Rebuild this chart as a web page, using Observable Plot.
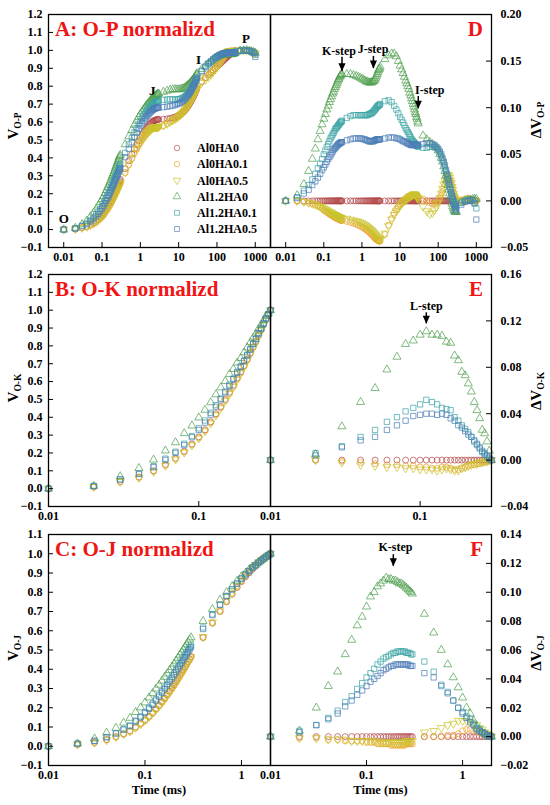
<!DOCTYPE html>
<html><head><meta charset="utf-8">
<script src="https://cdn.jsdelivr.net/npm/d3@7"></script>
<script src="https://cdn.jsdelivr.net/npm/@observablehq/plot@0.6"></script>
<style>
body{margin:0;background:#fff;}
#wrap{position:relative;width:550px;height:805px;overflow:hidden;background:#fff;}
#wrap svg{position:absolute;overflow:visible;}
</style></head><body><div id="wrap"></div>
<script>
// ---------------- data ----------------
const series = ["Al0HA0","Al0HA0.1","Al0HA0.5","Al1.2HA0","Al1.2HA0.1","Al1.2HA0.5"];
const colors = ["#b24a4a","#ef9f2c","#c8c42c","#4f9f4f","#3ea4a4","#4d7db6"];

const tOP = [0.01,0.02,0.03,0.04,0.05,0.06,0.07,0.08,0.09,0.1,0.11,0.12,0.13,0.14,0.15,0.16,0.17,0.18,0.19,0.2,0.21,0.22,0.23,0.24,0.25,0.26,0.27,0.28,0.29,0.3,
0.4,0.5,0.6,0.7,0.8,0.9,1,1.1,1.2,1.3,1.4,1.5,1.6,1.7,1.8,1.9,2,2.1,2.2,2.3,2.4,2.5,2.6,2.7,2.8,2.9,3,
4,5,6,7,8,9,10,11,12,13,14,15,16,17,18,19,20,21,22,23,24,25,26,27,28,29,30,
40,50,60,70,80,90,100,110,120,130,140,150,160,170,180,190,200,210,220,230,240,250,260,270,280,290,300,
400,500,600,700,800,900,1000];

// V O-P
const vOP_Al0HA0 = [0,0.003,0.011,0.018,0.028,0.038,0.048,0.059,0.07,0.081,0.092,0.105,0.118,0.129,0.14,0.151,0.162,0.174,0.183,0.193,0.203,0.213,0.223,0.231,0.241,0.249,0.258,0.266,0.273,0.28,
0.339,0.384,0.42,0.45,0.474,0.495,0.513,0.528,0.54,0.552,0.561,0.57,0.577,0.584,0.59,0.595,0.6,0.603,0.606,0.608,0.61,0.611,0.612,0.613,0.614,0.615,0.615,
0.616,0.618,0.621,0.624,0.628,0.632,0.637,0.642,0.648,0.654,0.661,0.668,0.676,0.684,0.692,0.7,0.708,0.716,0.724,0.732,0.74,0.748,0.756,0.764,0.772,0.78,0.788,
0.825,0.848,0.865,0.878,0.89,0.9,0.909,0.917,0.925,0.932,0.939,0.945,0.951,0.956,0.961,0.966,0.97,0.974,0.978,0.981,0.984,0.987,0.99,0.992,0.994,0.996,0.998,
1,1,0.999,0.996,0.992,0.988,0.984];
const vOP_Al0HA01 = [0,0.003,0.01,0.016,0.025,0.034,0.043,0.053,0.062,0.071,0.081,0.093,0.105,0.115,0.125,0.136,0.146,0.157,0.166,0.175,0.185,0.194,0.204,0.212,0.221,0.229,0.238,0.245,0.252,0.259,
0.317,0.361,0.396,0.425,0.448,0.468,0.485,0.499,0.51,0.521,0.529,0.537,0.543,0.549,0.554,0.558,0.562,0.564,0.566,0.567,0.569,0.569,0.57,0.57,0.571,0.572,0.572,
0.58,0.592,0.602,0.611,0.619,0.626,0.633,0.64,0.648,0.655,0.663,0.671,0.68,0.688,0.697,0.705,0.714,0.722,0.73,0.738,0.746,0.754,0.762,0.769,0.777,0.784,0.792,
0.827,0.848,0.863,0.875,0.887,0.898,0.909,0.92,0.931,0.942,0.953,0.963,0.972,0.979,0.985,0.99,0.993,0.995,0.996,0.996,0.996,0.996,0.996,0.996,0.996,0.997,0.998,
1.001,1.002,1.002,0.998,0.993,0.989,0.984];
const vOP_Al0HA05 = [0,0.003,0.01,0.016,0.025,0.034,0.043,0.053,0.063,0.073,0.083,0.095,0.107,0.117,0.128,0.138,0.148,0.16,0.168,0.178,0.187,0.197,0.206,0.214,0.224,0.231,0.24,0.248,0.254,0.261,
0.32,0.364,0.399,0.428,0.452,0.472,0.489,0.503,0.514,0.525,0.533,0.541,0.547,0.553,0.558,0.562,0.566,0.568,0.57,0.571,0.572,0.572,0.572,0.572,0.573,0.573,0.573,
0.581,0.591,0.601,0.609,0.617,0.624,0.632,0.639,0.647,0.654,0.662,0.67,0.679,0.688,0.697,0.705,0.714,0.722,0.731,0.739,0.747,0.755,0.762,0.769,0.776,0.783,0.79,
0.819,0.837,0.851,0.865,0.88,0.894,0.907,0.92,0.933,0.945,0.957,0.967,0.976,0.983,0.989,0.993,0.995,0.996,0.997,0.996,0.996,0.995,0.995,0.995,0.995,0.996,0.997,
1,1.001,1.001,0.998,0.993,0.989,0.984];
const vOP_Al12HA0 = [0,0.009,0.029,0.05,0.073,0.094,0.114,0.134,0.152,0.169,0.185,0.203,0.22,0.235,0.249,0.263,0.277,0.291,0.303,0.315,0.327,0.339,0.351,0.361,0.372,0.382,0.392,0.401,0.409,0.416,
0.475,0.52,0.555,0.584,0.607,0.627,0.644,0.658,0.669,0.68,0.689,0.697,0.704,0.711,0.717,0.723,0.728,0.732,0.736,0.74,0.744,0.747,0.75,0.753,0.755,0.757,0.759,
0.768,0.774,0.779,0.782,0.783,0.782,0.782,0.783,0.785,0.787,0.79,0.794,0.799,0.804,0.808,0.813,0.818,0.823,0.828,0.833,0.838,0.843,0.849,0.854,0.86,0.865,0.871,
0.895,0.914,0.928,0.939,0.949,0.957,0.963,0.967,0.971,0.974,0.976,0.977,0.978,0.978,0.978,0.978,0.978,0.978,0.978,0.978,0.978,0.979,0.98,0.981,0.982,0.984,0.986,
0.998,1,1,0.997,0.994,0.99,0.986];
const vOP_Al12HA01 = [0,0.007,0.022,0.035,0.051,0.067,0.083,0.099,0.115,0.131,0.146,0.163,0.179,0.193,0.207,0.22,0.233,0.247,0.258,0.27,0.281,0.292,0.303,0.312,0.323,0.332,0.342,0.351,0.358,0.366,
0.428,0.475,0.512,0.542,0.566,0.587,0.605,0.62,0.632,0.644,0.653,0.663,0.67,0.678,0.684,0.69,0.696,0.7,0.704,0.707,0.71,0.712,0.714,0.715,0.717,0.718,0.719,
0.723,0.726,0.727,0.726,0.726,0.726,0.727,0.729,0.732,0.735,0.739,0.744,0.75,0.756,0.762,0.768,0.774,0.781,0.788,0.795,0.802,0.809,0.816,0.824,0.831,0.839,0.846,
0.882,0.905,0.923,0.936,0.948,0.957,0.964,0.969,0.973,0.976,0.979,0.98,0.982,0.983,0.984,0.985,0.985,0.986,0.987,0.987,0.987,0.988,0.989,0.989,0.99,0.991,0.992,
0.998,1,1,0.997,0.992,0.985,0.976];
const vOP_Al12HA05 = [0,0.006,0.019,0.03,0.045,0.059,0.073,0.088,0.103,0.117,0.131,0.147,0.163,0.176,0.189,0.202,0.215,0.229,0.239,0.25,0.261,0.272,0.283,0.292,0.302,0.311,0.32,0.329,0.336,0.343,
0.404,0.45,0.487,0.517,0.541,0.562,0.58,0.594,0.606,0.617,0.626,0.634,0.641,0.648,0.654,0.659,0.664,0.668,0.671,0.673,0.676,0.677,0.678,0.679,0.68,0.681,0.681,
0.683,0.686,0.689,0.692,0.695,0.699,0.703,0.707,0.712,0.718,0.724,0.73,0.738,0.745,0.753,0.76,0.768,0.776,0.784,0.792,0.8,0.808,0.816,0.824,0.832,0.84,0.848,
0.886,0.91,0.927,0.939,0.95,0.958,0.965,0.97,0.975,0.978,0.981,0.983,0.984,0.985,0.986,0.987,0.987,0.987,0.987,0.986,0.986,0.986,0.986,0.986,0.986,0.987,0.988,
0.996,0.999,0.999,0.997,0.993,0.986,0.964];

// delta V O-P
const dOP_Al0HA0 = [0,0,0,0,0,0,0,0,0,0,0,0,0,0,0,0,0,0,0,0,0,0,0,0,0,0,0,0,0,0,
0,0,0,0,0,0,0,0,0,0,0,0,0,0,0,0,0,0,0,0,0,0,0,0,0,0,0,
0,0,0,0,0,0,0,0,0,0,0,0,0,0,0,0,0,0,0,0,0,0,0,0,0,0,0,
0,0,0,0,0,0,0,0,0,0,0,0,0,0,0,0,0,0,0,0,0,0,0,0,0,0,0,
0,0,0,0,0,0,0];
const dOP_Al0HA01 = [0,0,-0.001,-0.002,-0.003,-0.004,-0.005,-0.006,-0.008,-0.01,-0.011,-0.012,-0.013,-0.014,-0.015,-0.015,-0.016,-0.017,-0.017,-0.018,-0.018,-0.019,-0.019,-0.019,-0.02,-0.02,-0.02,-0.021,-0.021,-0.021,
-0.022,-0.023,-0.024,-0.025,-0.026,-0.027,-0.028,-0.029,-0.03,-0.031,-0.032,-0.033,-0.034,-0.035,-0.036,-0.037,-0.038,-0.039,-0.04,-0.041,-0.041,-0.042,-0.042,-0.043,-0.043,-0.043,-0.043,
-0.036,-0.026,-0.019,-0.013,-0.009,-0.006,-0.004,-0.002,0,0.001,0.002,0.003,0.004,0.004,0.005,0.005,0.006,0.006,0.006,0.006,0.006,0.006,0.006,0.005,0.005,0.004,0.004,
0.002,0,-0.002,-0.003,-0.003,-0.002,0,0.003,0.006,0.01,0.014,0.018,0.021,0.023,0.024,0.024,0.023,0.021,0.018,0.015,0.012,0.009,0.006,0.004,0.002,0.001,0,
0.001,0.002,0.003,0.002,0.001,0.001,0];
const dOP_Al0HA05 = [0,0,-0.001,-0.002,-0.003,-0.004,-0.005,-0.006,-0.007,-0.008,-0.009,-0.01,-0.011,-0.012,-0.012,-0.013,-0.014,-0.014,-0.015,-0.015,-0.016,-0.016,-0.017,-0.017,-0.017,-0.018,-0.018,-0.018,-0.019,-0.019,
-0.019,-0.02,-0.021,-0.022,-0.022,-0.023,-0.024,-0.025,-0.026,-0.027,-0.028,-0.029,-0.03,-0.031,-0.032,-0.033,-0.034,-0.035,-0.036,-0.037,-0.038,-0.039,-0.04,-0.041,-0.041,-0.042,-0.042,
-0.035,-0.027,-0.02,-0.015,-0.011,-0.008,-0.005,-0.003,-0.001,0,0.001,0.002,0.003,0.004,0.005,0.005,0.006,0.006,0.007,0.007,0.007,0.007,0.006,0.005,0.004,0.003,0.002,
-0.006,-0.011,-0.014,-0.013,-0.01,-0.006,-0.002,0.003,0.008,0.013,0.018,0.022,0.025,0.027,0.028,0.027,0.025,0.022,0.019,0.015,0.012,0.008,0.005,0.003,0.001,0,-0.001,
0,0.001,0.002,0.002,0.001,0.001,0];
const dOP_Al12HA0 = [0,0.006,0.018,0.032,0.045,0.056,0.066,0.075,0.082,0.088,0.093,0.098,0.102,0.106,0.109,0.112,0.115,0.117,0.12,0.122,0.124,0.126,0.128,0.13,0.131,0.133,0.134,0.135,0.136,0.136,
0.136,0.136,0.135,0.134,0.133,0.132,0.131,0.13,0.129,0.128,0.128,0.127,0.127,0.127,0.127,0.128,0.128,0.129,0.13,0.132,0.134,0.136,0.138,0.14,0.141,0.142,0.144,
0.152,0.156,0.158,0.158,0.155,0.15,0.145,0.141,0.137,0.133,0.129,0.126,0.123,0.12,0.116,0.113,0.11,0.107,0.104,0.101,0.098,0.095,0.093,0.09,0.088,0.085,0.083,
0.07,0.066,0.063,0.061,0.059,0.057,0.054,0.05,0.046,0.042,0.037,0.032,0.027,0.022,0.017,0.012,0.008,0.004,0,-0.003,-0.006,-0.008,-0.01,-0.011,-0.012,-0.012,-0.012,
-0.002,0,0.001,0.001,0.002,0.002,0.002];
const dOP_Al12HA01 = [0,0.004,0.011,0.017,0.023,0.029,0.035,0.04,0.045,0.05,0.054,0.058,0.061,0.064,0.067,0.069,0.071,0.073,0.075,0.077,0.078,0.079,0.08,0.081,0.082,0.083,0.084,0.085,0.085,0.086,
0.089,0.091,0.092,0.092,0.092,0.092,0.092,0.092,0.092,0.092,0.092,0.093,0.093,0.094,0.094,0.095,0.096,0.097,0.098,0.099,0.1,0.101,0.102,0.102,0.103,0.103,0.104,
0.107,0.108,0.106,0.102,0.098,0.094,0.09,0.087,0.084,0.081,0.078,0.076,0.074,0.072,0.07,0.068,0.066,0.065,0.064,0.063,0.062,0.061,0.06,0.06,0.059,0.059,0.058,
0.057,0.057,0.058,0.058,0.058,0.057,0.055,0.052,0.048,0.044,0.04,0.035,0.031,0.027,0.023,0.019,0.015,0.012,0.009,0.006,0.003,0.001,-0.001,-0.003,-0.004,-0.005,-0.006,
-0.002,0,0.001,0.001,0,-0.003,-0.008];
const dOP_Al12HA05 = [0,0.003,0.008,0.012,0.017,0.021,0.025,0.029,0.033,0.036,0.039,0.042,0.045,0.047,0.049,0.051,0.053,0.055,0.056,0.057,0.058,0.059,0.06,0.061,0.061,0.062,0.062,0.063,0.063,0.063,
0.065,0.066,0.067,0.067,0.067,0.067,0.067,0.066,0.066,0.065,0.065,0.064,0.064,0.064,0.064,0.064,0.064,0.065,0.065,0.065,0.066,0.066,0.066,0.066,0.066,0.066,0.066,
0.067,0.068,0.068,0.068,0.067,0.067,0.066,0.065,0.064,0.064,0.063,0.062,0.062,0.061,0.061,0.06,0.06,0.06,0.06,0.06,0.06,0.06,0.06,0.06,0.06,0.06,0.06,
0.061,0.062,0.062,0.061,0.06,0.058,0.056,0.053,0.05,0.046,0.042,0.038,0.033,0.029,0.025,0.021,0.017,0.013,0.009,0.005,0.002,-0.001,-0.004,-0.006,-0.008,-0.009,-0.01,
-0.004,-0.001,0,0.001,0.001,-0.002,-0.02];

// O-K normalized
const tOK = [0.01,0.02,0.03,0.04,0.05,0.06,0.07,0.08,0.09,0.1,0.11,0.12,0.13,0.14,0.15,0.16,0.17,0.18,0.19,0.2,0.21,0.22,0.23,0.24,0.25,0.26,0.27,0.28,0.29,0.3];
const vOK_Al0HA0 = [0,0.01,0.04,0.065,0.1,0.135,0.17,0.21,0.25,0.29,0.33,0.375,0.42,0.46,0.5,0.54,0.58,0.62,0.655,0.69,0.725,0.76,0.795,0.825,0.86,0.89,0.92,0.95,0.975,1];
const vOK_Al0HA01 = [0,0.01,0.039,0.063,0.097,0.131,0.166,0.205,0.245,0.284,0.324,0.368,0.413,0.454,0.494,0.533,0.572,0.612,0.648,0.684,0.72,0.756,0.791,0.822,0.857,0.888,0.918,0.949,0.974,1];
const vOK_Al0HA05 = [0,0.01,0.038,0.061,0.095,0.129,0.164,0.203,0.243,0.282,0.322,0.367,0.411,0.452,0.493,0.532,0.571,0.611,0.648,0.684,0.72,0.756,0.792,0.822,0.858,0.888,0.919,0.949,0.975,1];
const vOK_Al12HA0 = [0,0.015,0.069,0.115,0.162,0.213,0.259,0.31,0.353,0.398,0.441,0.483,0.528,0.567,0.602,0.641,0.67,0.706,0.731,0.763,0.791,0.819,0.845,0.868,0.896,0.916,0.943,0.966,0.983,1];
const vOK_Al12HA01 = [0,0.016,0.052,0.085,0.126,0.168,0.207,0.252,0.295,0.338,0.382,0.425,0.468,0.505,0.544,0.583,0.617,0.654,0.685,0.717,0.749,0.78,0.811,0.838,0.87,0.897,0.925,0.953,0.976,1];
const vOK_Al12HA05 = [0,0.014,0.051,0.082,0.12,0.161,0.2,0.244,0.288,0.329,0.37,0.415,0.459,0.5,0.539,0.576,0.614,0.65,0.683,0.715,0.747,0.78,0.812,0.839,0.871,0.898,0.926,0.954,0.977,1];
const dOK_Al0HA0 = [0,0,0,0,0,0,0,0,0,0,0,0,0,0,0,0,0,0,0,0,0,0,0,0,0,0,0,0,0,0];
const dOK_Al0HA01 = [0,0,-0.001,-0.002,-0.003,-0.004,-0.004,-0.005,-0.005,-0.006,-0.006,-0.007,-0.007,-0.006,-0.006,-0.007,-0.008,-0.008,-0.007,-0.006,-0.005,-0.004,-0.004,-0.003,-0.003,-0.002,-0.002,-0.001,-0.001,0];
const dOK_Al0HA05 = [0,0,-0.002,-0.004,-0.005,-0.006,-0.006,-0.007,-0.007,-0.008,-0.008,-0.008,-0.009,-0.008,-0.007,-0.008,-0.009,-0.009,-0.007,-0.006,-0.005,-0.004,-0.003,-0.003,-0.002,-0.002,-0.001,-0.001,0,0];
const dOK_Al12HA0 = [0,0.005,0.029,0.05,0.062,0.078,0.089,0.1,0.103,0.108,0.111,0.108,0.108,0.107,0.102,0.101,0.09,0.086,0.076,0.073,0.066,0.059,0.05,0.043,0.036,0.026,0.023,0.016,0.008,0];
const dOK_Al12HA01 = [0,0.006,0.012,0.02,0.026,0.033,0.037,0.042,0.045,0.048,0.052,0.05,0.048,0.045,0.044,0.043,0.037,0.034,0.03,0.027,0.024,0.02,0.016,0.013,0.01,0.007,0.005,0.003,0.001,0];
const dOK_Al12HA05 = [0,0.004,0.011,0.017,0.02,0.026,0.03,0.034,0.038,0.039,0.04,0.04,0.039,0.04,0.039,0.036,0.034,0.03,0.028,0.025,0.022,0.02,0.017,0.014,0.011,0.008,0.006,0.004,0.002,0];

// O-J normalized
const tOJ = [0.01,0.02,0.03,0.04,0.05,0.06,0.07,0.08,0.09,0.1,0.11,0.12,0.13,0.14,0.15,0.16,0.17,0.18,0.19,0.2,0.21,0.22,0.23,0.24,0.25,0.26,0.27,0.28,0.29,0.3,
0.4,0.5,0.6,0.7,0.8,0.9,1,1.1,1.2,1.3,1.4,1.5,1.6,1.7,1.8,1.9,2];
const vOJ_Al0HA0 = [0,0.01,0.02,0.035,0.05,0.065,0.08,0.1,0.118,0.137,0.156,0.175,0.195,0.213,0.232,0.25,0.268,0.286,0.303,0.32,0.337,0.353,0.369,0.384,0.399,0.413,0.427,0.441,0.454,0.466,
0.565,0.64,0.7,0.75,0.79,0.825,0.855,0.88,0.9,0.92,0.935,0.95,0.962,0.973,0.983,0.992,1];
const vOJ_Al0HA01 = [0,0.009,0.019,0.033,0.048,0.062,0.077,0.097,0.115,0.133,0.152,0.171,0.19,0.208,0.227,0.245,0.263,0.28,0.297,0.314,0.331,0.347,0.363,0.378,0.393,0.408,0.422,0.436,0.449,0.461,
0.565,0.64,0.7,0.751,0.791,0.827,0.859,0.885,0.905,0.924,0.939,0.953,0.964,0.975,0.984,0.993,1];
const vOJ_Al0HA05 = [0,0.009,0.019,0.033,0.048,0.063,0.077,0.097,0.115,0.134,0.153,0.172,0.191,0.209,0.228,0.246,0.264,0.282,0.299,0.316,0.333,0.349,0.365,0.38,0.395,0.41,0.424,0.438,0.451,0.463,
0.568,0.644,0.706,0.758,0.799,0.836,0.866,0.891,0.91,0.929,0.943,0.956,0.967,0.976,0.985,0.993,1];
const vOJ_Al12HA0 = [0,0.014,0.04,0.07,0.095,0.122,0.147,0.177,0.201,0.227,0.253,0.275,0.299,0.319,0.34,0.36,0.377,0.395,0.411,0.428,0.444,0.459,0.475,0.489,0.503,0.516,0.529,0.542,0.554,0.565,
0.65,0.712,0.76,0.8,0.831,0.859,0.882,0.9,0.916,0.931,0.942,0.955,0.965,0.975,0.984,0.992,1];
const vOJ_Al12HA01 = [0,0.014,0.028,0.048,0.068,0.089,0.108,0.133,0.155,0.178,0.2,0.222,0.245,0.265,0.286,0.305,0.324,0.343,0.361,0.378,0.396,0.412,0.428,0.443,0.458,0.471,0.485,0.499,0.511,0.523,
0.617,0.685,0.736,0.781,0.815,0.845,0.872,0.894,0.912,0.929,0.941,0.955,0.965,0.975,0.984,0.992,1];
const vOJ_Al12HA05 = [0,0.013,0.028,0.047,0.066,0.086,0.105,0.129,0.15,0.172,0.194,0.215,0.237,0.257,0.278,0.297,0.316,0.335,0.352,0.37,0.387,0.403,0.419,0.434,0.449,0.463,0.477,0.49,0.503,0.515,
0.609,0.681,0.735,0.78,0.815,0.845,0.871,0.893,0.91,0.928,0.94,0.954,0.965,0.975,0.984,0.992,1];
const dOJ_Al0HA0 = [0,0,0,0,0,0,0,0,0,0,0,0,0,0,0,0,0,0,0,0,0,0,0,0,0,0,0,0,0,0,
0,0,0,0,0,0,0,0,0,0,0,0,0,0,0,0,0];
const dOJ_Al0HA01 = [0,-0.001,-0.001,-0.002,-0.002,-0.003,-0.003,-0.003,-0.003,-0.004,-0.004,-0.004,-0.005,-0.005,-0.005,-0.005,-0.005,-0.006,-0.006,-0.006,-0.006,-0.006,-0.006,-0.006,-0.006,-0.005,-0.005,-0.005,-0.005,-0.005,
0,0,0,0.001,0.001,0.002,0.004,0.005,0.005,0.004,0.004,0.003,0.002,0.002,0.001,0.001,0];
const dOJ_Al0HA05 = [0,-0.001,-0.001,-0.002,-0.002,-0.002,-0.003,-0.003,-0.003,-0.003,-0.003,-0.003,-0.004,-0.004,-0.004,-0.004,-0.004,-0.004,-0.004,-0.004,-0.004,-0.004,-0.004,-0.004,-0.004,-0.003,-0.003,-0.003,-0.003,-0.003,
0.003,0.004,0.006,0.008,0.009,0.011,0.011,0.011,0.01,0.009,0.008,0.006,0.005,0.003,0.002,0.001,0];
const dOJ_Al12HA0 = [0,0.004,0.02,0.035,0.045,0.057,0.067,0.077,0.083,0.09,0.097,0.1,0.104,0.106,0.108,0.11,0.109,0.109,0.108,0.108,0.107,0.106,0.106,0.105,0.104,0.103,0.102,0.101,0.1,0.099,
0.085,0.072,0.06,0.05,0.041,0.034,0.027,0.02,0.016,0.011,0.007,0.005,0.003,0.002,0.001,0,0];
const dOJ_Al12HA01 = [0,0.004,0.008,0.013,0.018,0.024,0.028,0.033,0.037,0.041,0.044,0.047,0.05,0.052,0.054,0.055,0.056,0.057,0.058,0.058,0.059,0.059,0.059,0.059,0.059,0.058,0.058,0.058,0.057,0.057,
0.052,0.045,0.036,0.031,0.025,0.02,0.017,0.014,0.012,0.009,0.006,0.005,0.003,0.002,0.001,0,0];
const dOJ_Al12HA05 = [0,0.003,0.008,0.012,0.016,0.021,0.025,0.029,0.032,0.035,0.038,0.04,0.042,0.044,0.046,0.047,0.048,0.049,0.049,0.05,0.05,0.05,0.05,0.05,0.05,0.05,0.05,0.049,0.049,0.049,
0.044,0.041,0.035,0.03,0.025,0.02,0.016,0.013,0.01,0.008,0.005,0.004,0.003,0.002,0.001,0,0];

// ticks
const xTicksOP = [0.01,0.1,1,10,100,1000];
const xTicksOK = [0.01,0.1];
const xTicksOJ = [0.01,0.1,1];
const yTicksA = [-0.1,0,0.1,0.2,0.3,0.4,0.5,0.6,0.7,0.8,0.9,1.0,1.1,1.2];
const yTicksB = [-0.1,0,0.1,0.2,0.3,0.4,0.5,0.6,0.7,0.8,0.9,1.0,1.1,1.2];
const yTicksC = [-0.1,0,0.1,0.2,0.3,0.4,0.5,0.6,0.7,0.8,0.9,1.0,1.1];
const yTicksD = [-0.05,0,0.05,0.1,0.15,0.2];
const yTicksE = [-0.04,0,0.04,0.08,0.12,0.16];
const yTicksF = [-0.02,0,0.02,0.04,0.06,0.08,0.1,0.12,0.14];

// annotations
const opLetters = ["O","J","I","P"];
const opLettersT = [0.01, 2.06, 33, 571];
const opLettersV = [0.06, 0.776, 0.947, 1.065];
const stepD = ["K-step","J-step","I-step"];
const stepDT = [0.25, 1.95, 60];
const stepDV = [0.161, 0.163, 0.119];
const arrowDT = [0.3, 2, 30];
const arrowDTop = [0.154, 0.155, 0.112];
const arrowDTip = [0.139, 0.142, 0.099];
const stepE = ["L-step"], stepET = [0.11], stepEV = [0.133];
const arrowET = [0.11], arrowETop = [0.127], arrowETip = [0.1175];
const stepF = ["K-step"], stepFT = [0.2], stepFV = [0.131];
const arrowFT = [0.19], arrowFTop = [0.126], arrowFTip = [0.118];

// ---------------- drawing ----------------
const FONT = "'Liberation Serif','Times New Roman',serif";
const triDown = {draw(ctx, size){ const y = -Math.sqrt(size/(Math.sqrt(3)*3)); const s3 = Math.sqrt(3);
  ctx.moveTo(0, -y*2); ctx.lineTo(-s3*y, y); ctx.lineTo(s3*y, y); ctx.closePath(); }};
const arrowHead = {draw(ctx){ ctx.moveTo(0,0); ctx.lineTo(-3.6,-8); ctx.lineTo(3.6,-8); ctx.closePath(); }};
const symbols = ["circle","circle",triDown,"triangle","square","square"];
const d3symbols = [d3.symbolCircle, d3.symbolCircle, triDown, d3.symbolTriangle, d3.symbolSquare, d3.symbolSquare];

function table(t, v){ return t.map((x,i)=>({t:x, v:v[i]})).filter(d=>d.v!=null); }

const wrap = document.getElementById("wrap");

function panel(o){
  const left = o.side === "left";
  const mL = left ? 48 : 5, mR = left ? 5 : 59, mT = 14, mB = 40;
  const fw = o.x1 - o.x0, fh = o.y1 - o.y0;
  const marks = [];
  o.vals.forEach((v,i)=>{
    marks.push(Plot.dot(table(o.t, v), {x:"t", y:"v", symbol: symbols[i], stroke: colors[i], fill:"none",
      r: 3, strokeWidth: 0.8, strokeOpacity: 0.9}));
  });
  marks.push(Plot.frame({stroke:"#000", strokeWidth:1.3}));
  marks.push(Plot.tickX(o.xticks, {x: d=>d, insetTop: fh-5, stroke:"#000", strokeWidth:1}));
  if (left) marks.push(Plot.tickY(o.yticks, {y: d=>d, insetRight: fw-5, stroke:"#000", strokeWidth:1}));
  else marks.push(Plot.tickY(o.yticks, {y: d=>d, insetLeft: fw-5, stroke:"#000", strokeWidth:1}));
  marks.push(Plot.axisX({ticks: o.xticks, tickSize: 0, tickPadding: 5, tickFormat: d=>String(d), label: null}));
  marks.push(Plot.axisY({anchor: left ? "left" : "right", ticks: o.yticks, tickSize: 0, tickPadding: left ? 6 : 9,
    tickFormat: d3.format(o.yfmt), label: null}));
  (o.extra || []).forEach(m=>marks.push(m));
  const svg = Plot.plot({
    width: mL+fw+mR, height: mT+fh+mB, marginLeft: mL, marginRight: mR, marginTop: mT, marginBottom: mB,
    x: {type:"log", domain: o.xdomain, axis: null},
    y: {domain: o.ydomain, axis: null},
    style: {background:"none", overflow:"visible", fontFamily: FONT, fontSize:"12px", fontWeight:"bold", color:"#000"},
    marks
  });
  svg.style.position = "absolute";
  svg.style.left = (o.x0 - mL) + "px";
  svg.style.top = (o.y0 - mT) + "px";
  wrap.appendChild(svg);
  const s = d3.select(svg);
  if (o.title) s.append("text").attr("x", mL+7).attr("y", mT+22).attr("fill","#f01414").attr("text-anchor","start")
     .attr("font-family", FONT).attr("font-weight","bold").attr("font-size", 21).text(o.title);
  if (o.letter) s.append("text").attr("x", mL+fw-8).attr("y", mT+22).attr("fill","#f01414").attr("text-anchor","end")
     .attr("font-family", FONT).attr("font-weight","bold").attr("font-size", 21).text(o.letter);
  const lx = left ? 18 : (541 - (o.x0 - mL));
  const ly = o.labelY - (o.y0 - mT);
  const g = s.append("g").attr("transform", `translate(${lx},${ly}) rotate(-90)`);
  const tx = g.append("text").attr("text-anchor","middle").attr("font-family", FONT).attr("font-weight","bold").attr("font-size", 15);
  tx.append("tspan").text(o.ylab[0]);
  tx.append("tspan").attr("dy", 3).attr("font-size", 9.5).text(o.ylab[1]);
  if (o.timeLabel) s.append("text").attr("x", mL+fw/2).attr("y", 794 - (o.y0 - mT)).attr("text-anchor","middle")
     .attr("font-family", FONT).attr("font-weight","bold").attr("font-size", 12.5).text("Time (ms)");
  return s;
}

function stepMarks(lab, lt, lv, at, atop, atip){
  return [
    Plot.text(lab.map((d,i)=>({text:d, t:lt[i], v:lv[i]})), {x:"t", y:"v", text:"text", fontSize:12, fontWeight:"bold", fill:"#000"}),
    Plot.ruleX(at.map((d,i)=>({t:d, a:atop[i], b:atip[i]})), {x:"t", y1:"a", y2:"b", stroke:"#000", strokeWidth:1.5}),
    Plot.dot(at.map((d,i)=>({t:d, b:atip[i]})), {x:"t", y:"b", symbol: arrowHead, fill:"#000", stroke:"none", r:3})
  ];
}

const A = panel({side:"left", x0:48, x1:270, y0:14, y1:247, xdomain:[0.004,2500], ydomain:[-0.1,1.2],
  xticks:xTicksOP, yticks:yTicksA, yfmt:".1f", t:tOP,
  vals:[vOP_Al0HA0,vOP_Al0HA01,vOP_Al0HA05,vOP_Al12HA0,vOP_Al12HA01,vOP_Al12HA05],
  title:"A: O-P normalizd", ylab:["V","O-P"], labelY:126,
  extra:[Plot.text(opLetters.map((d,i)=>({text:d, t:opLettersT[i], v:opLettersV[i]})), {x:"t", y:"v", text:"text", fontSize:13, fontWeight:"bold", fill:"#000"})]});
// legend in A
series.forEach((name,i)=>{
  const y = 148 + i*16.2;
  A.append("path").attr("transform",`translate(177,${y})`).attr("d", d3.symbol(d3symbols[i], 24)())
    .attr("fill","none").attr("stroke", colors[i]).attr("stroke-width",0.9).attr("stroke-opacity",0.75);
  A.append("text").attr("x",197).attr("y",y).attr("dy","0.35em").attr("text-anchor","start").attr("font-family",FONT).attr("font-weight","bold")
    .attr("font-size",12).attr("fill","#000").text(name);
});

panel({side:"right", x0:270, x1:491, y0:14, y1:247, xdomain:[0.004,2500], ydomain:[-0.05,0.2],
  xticks:xTicksOP, yticks:yTicksD, yfmt:".2f", t:tOP,
  vals:[dOP_Al0HA0,dOP_Al0HA01,dOP_Al0HA05,dOP_Al12HA0,dOP_Al12HA01,dOP_Al12HA05],
  letter:"D", ylab:["ΔV","O-P"], labelY:120,
  extra: stepMarks(stepD, stepDT, stepDV, arrowDT, arrowDTop, arrowDTip)});

panel({side:"left", x0:48, x1:270, y0:274, y1:506, xdomain:[0.01,0.3], ydomain:[-0.1,1.2],
  xticks:xTicksOK, yticks:yTicksB, yfmt:".1f", t:tOK,
  vals:[vOK_Al0HA0,vOK_Al0HA01,vOK_Al0HA05,vOK_Al12HA0,vOK_Al12HA01,vOK_Al12HA05],
  title:"B: O-K normalizd", ylab:["V","O-K"], labelY:388});

panel({side:"right", x0:270, x1:491, y0:274, y1:506, xdomain:[0.01,0.3], ydomain:[-0.04,0.16],
  xticks:xTicksOK, yticks:yTicksE, yfmt:".2f", t:tOK,
  vals:[dOK_Al0HA0,dOK_Al0HA01,dOK_Al0HA05,dOK_Al12HA0,dOK_Al12HA01,dOK_Al12HA05],
  letter:"E", ylab:["ΔV","O-K"], labelY:391,
  extra: stepMarks(stepE, stepET, stepEV, arrowET, arrowETop, arrowETip)});

panel({side:"left", x0:48, x1:270, y0:534, y1:765, xdomain:[0.01,2], ydomain:[-0.1,1.1],
  xticks:xTicksOJ, yticks:yTicksC, yfmt:".1f", t:tOJ,
  vals:[vOJ_Al0HA0,vOJ_Al0HA01,vOJ_Al0HA05,vOJ_Al12HA0,vOJ_Al12HA01,vOJ_Al12HA05],
  title:"C: O-J normalizd", ylab:["V","O-J"], labelY:648, timeLabel:true});

panel({side:"right", x0:270, x1:491, y0:534, y1:765, xdomain:[0.01,2], ydomain:[-0.02,0.14],
  xticks:xTicksOJ, yticks:yTicksF, yfmt:".2f", t:tOJ,
  vals:[dOJ_Al0HA0,dOJ_Al0HA01,dOJ_Al0HA05,dOJ_Al12HA0,dOJ_Al12HA01,dOJ_Al12HA05],
  letter:"F", ylab:["ΔV","O-J"], labelY:653, timeLabel:true,
  extra: stepMarks(stepF, stepFT, stepFV, arrowFT, arrowFTop, arrowFTip)});
</script></body></html>
